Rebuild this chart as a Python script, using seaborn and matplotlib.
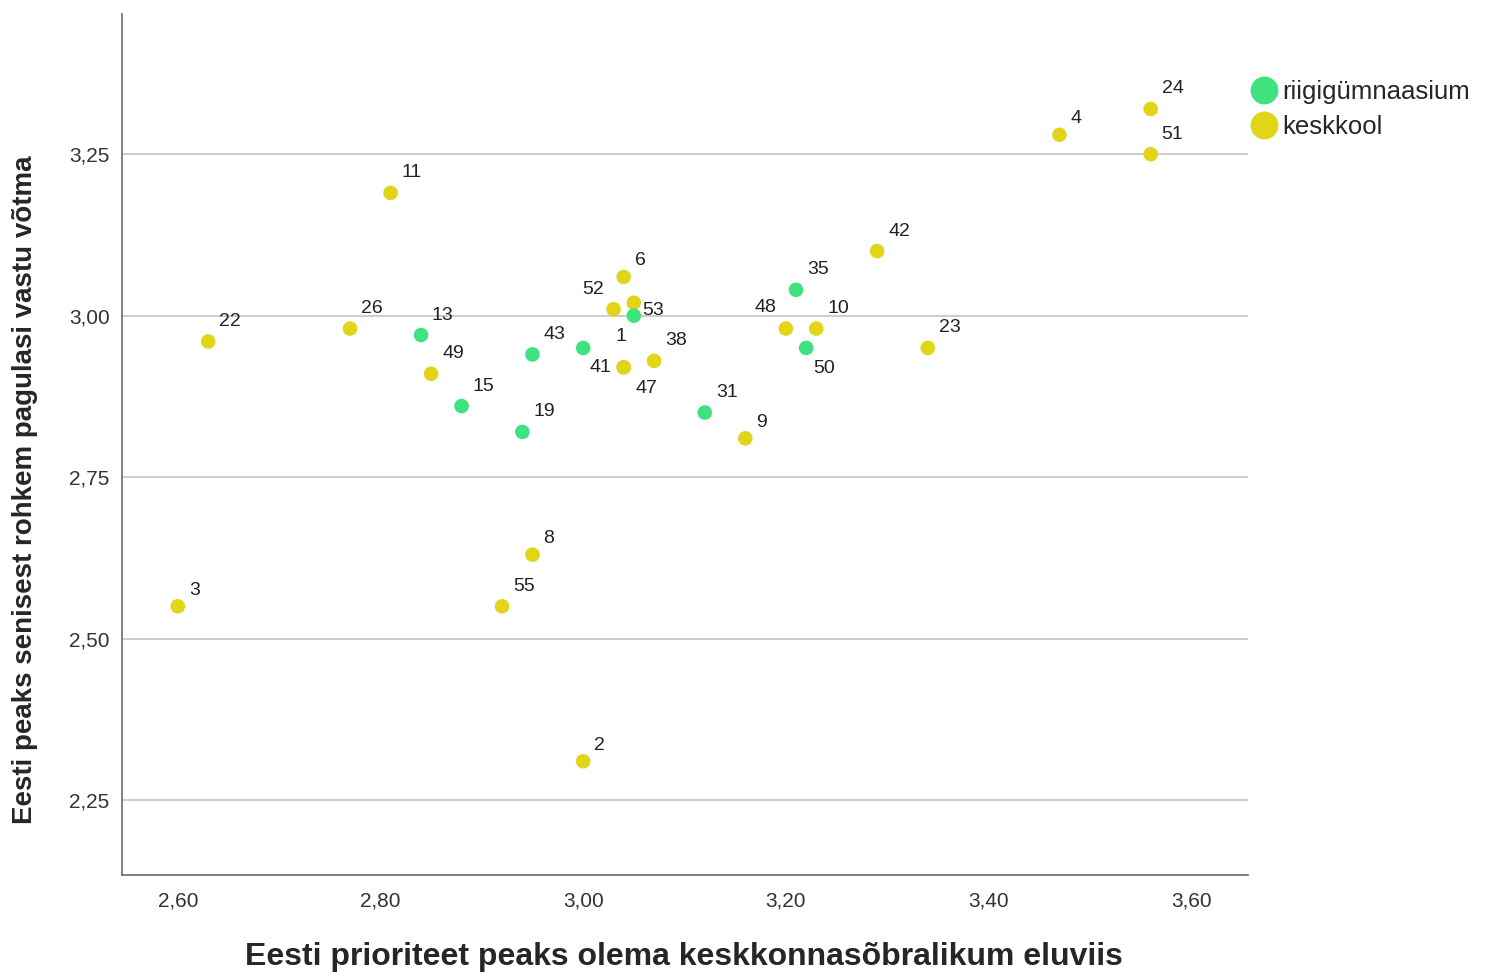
import matplotlib.pyplot as plt
import pandas as pd
import seaborn as sns
from matplotlib.lines import Line2D
from matplotlib.ticker import FuncFormatter

# Punktide andmed (loetud jooniselt)
labels = ["3", "22", "26", "11", "13", "49", "15", "19", "43", "1", "52", "6", "", "53",
          "41", "47", "38", "31", "9", "48", "35", "10", "50", "42", "23", "4", "24", "51",
          "8", "55", "2"]
x_vals = [2.60, 2.63, 2.77, 2.81, 2.84, 2.85, 2.88, 2.94, 2.95, 3.00, 3.03, 3.04, 3.05, 3.05,
          3.04, 3.04, 3.07, 3.12, 3.16, 3.20, 3.21, 3.23, 3.22, 3.29, 3.34, 3.47, 3.56, 3.56,
          2.95, 2.92, 3.00]
y_vals = [2.55, 2.96, 2.98, 3.19, 2.97, 2.91, 2.86, 2.82, 2.94, 2.95, 3.01, 3.06, 3.02, 3.00,
          2.92, 2.92, 2.93, 2.85, 2.81, 2.98, 3.04, 2.98, 2.95, 3.10, 2.95, 3.28, 3.32, 3.25,
          2.63, 2.55, 2.31]
groups = ["keskkool", "keskkool", "keskkool", "keskkool", "riigigümnaasium", "keskkool",
          "riigigümnaasium", "riigigümnaasium", "riigigümnaasium", "riigigümnaasium",
          "keskkool", "keskkool", "keskkool", "riigigümnaasium", "keskkool", "keskkool",
          "keskkool", "riigigümnaasium", "keskkool", "keskkool", "riigigümnaasium",
          "keskkool", "riigigümnaasium", "keskkool", "keskkool", "keskkool", "keskkool",
          "keskkool", "keskkool", "keskkool", "keskkool"]

group_names = ["riigigümnaasium", "keskkool"]
colors = {"riigigümnaasium": "#3ee27f", "keskkool": "#e2d416"}

x_ticks = [2.60, 2.80, 3.00, 3.20, 3.40, 3.60]
y_ticks = [2.25, 2.50, 2.75, 3.00, 3.25]

# sildi nihked pikslites (vaikimisi üles paremale)
label_offsets = {"52": (-10, 20, "right"), "48": (-9, 21, "right"), "41": (-12, 0, "right"),
                 "47": (12, -21, "left"), "50": (7, -21, "left"), "1": (32, 11, "left"),
                 "53": (8, 5, "left")}

df = pd.DataFrame({"x": x_vals, "y": y_vals, "grupp": groups, "silt": labels})

sns.set_style("white")
plt.rcParams["font.family"] = ["Liberation Sans", "DejaVu Sans"]

fig = plt.figure(figsize=(14.88, 9.75), dpi=100)
ax = fig.add_axes([0.082, 0.1026, 0.7567, 0.883])

for t in y_ticks:
    ax.axhline(t, color="#c8c8c8", lw=1.3, zorder=0)

sns.scatterplot(data=df, x="x", y="y", hue="grupp", palette=colors, s=110,
                edgecolor="none", legend=False, ax=ax, zorder=3)

for _, r in df.iterrows():
    if r["silt"] == "":
        continue
    if r["silt"] in label_offsets:
        dx, dy, ha = label_offsets[r["silt"]]
    else:
        dx, dy, ha = 11, (16 if len(r["silt"]) == 1 else 20), "left"
    ax.annotate(r["silt"], (r["x"], r["y"]), xytext=(dx, dy), textcoords="offset pixels",
                ha=ha, va="center", fontsize=14, color="#222222", zorder=4)

ax.set_xlim(2.545, 3.656)
ax.set_ylim(2.134, 3.467)
ax.set_xticks(x_ticks)
ax.set_yticks(y_ticks)
fmt = FuncFormatter(lambda v, p: f"{v:.2f}".replace(".", ","))
ax.xaxis.set_major_formatter(fmt)
ax.yaxis.set_major_formatter(fmt)
ax.tick_params(axis="both", length=0, labelsize=15, labelcolor="#333333")
ax.tick_params(axis="x", pad=12)
ax.tick_params(axis="y", pad=9)

for side in ["top", "right"]:
    ax.spines[side].set_visible(False)
for side in ["left", "bottom"]:
    ax.spines[side].set_color("#777777")
    ax.spines[side].set_linewidth(1.3)

ax.set_xlabel("Eesti prioriteet peaks olema keskkonnasõbralikum eluviis",
              fontsize=23, fontweight="bold", va="center")
ax.xaxis.set_label_coords(0.499, -0.095)
ax.set_ylabel("Eesti peaks senisest rohkem pagulasi vastu võtma",
              fontsize=20, fontweight="bold", va="center")
ax.yaxis.set_label_coords(-0.086, 0.448)

handles = [Line2D([], [], marker="o", ls="", color=colors[g], markersize=19) for g in group_names]
ax.legend(handles, group_names, loc="upper left", bbox_to_anchor=(1.0027, 0.923), frameon=False,
          fontsize=18.5, handlelength=1.0, handletextpad=0.2, labelspacing=0.42,
          borderpad=0, borderaxespad=0)

fig.savefig("out.png", dpi=100)
